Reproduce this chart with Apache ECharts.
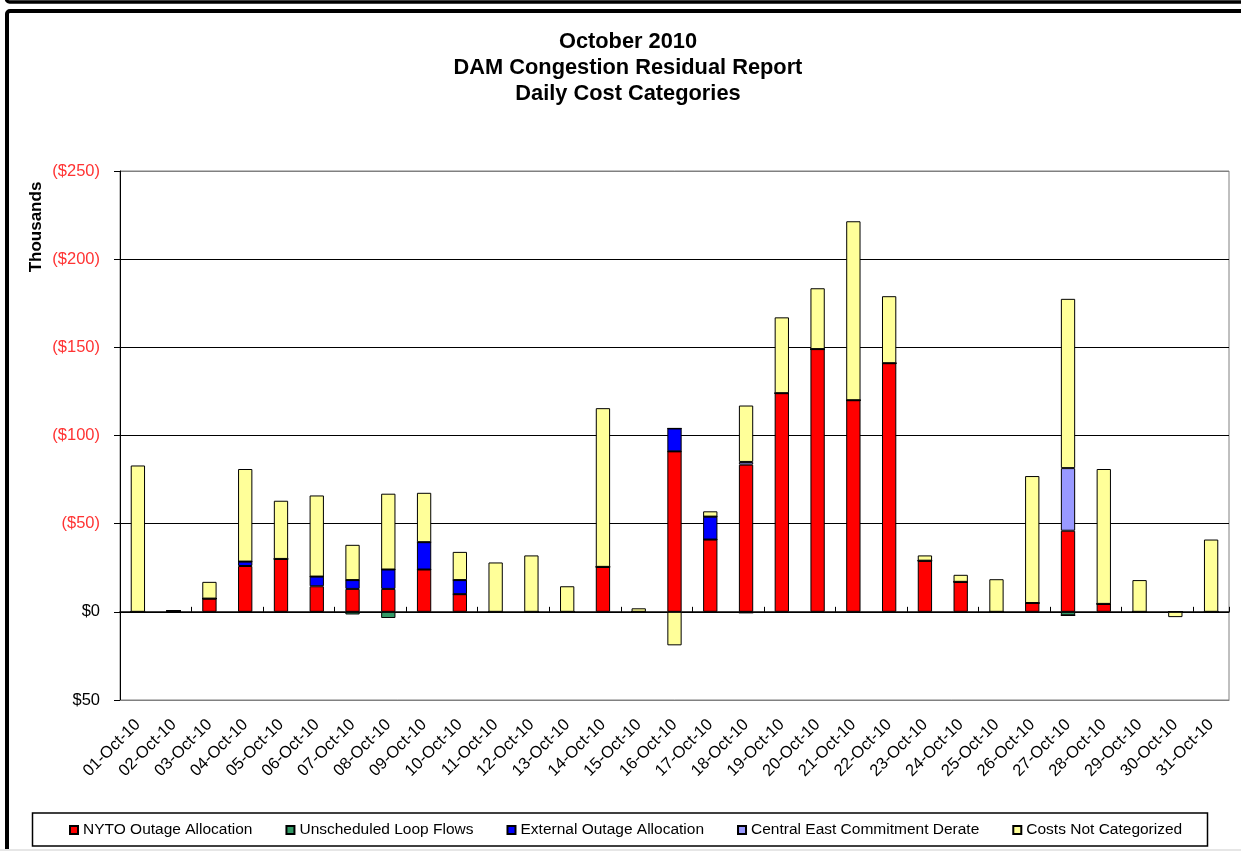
<!DOCTYPE html>
<html>
<head>
<meta charset="utf-8">
<title>DAM Congestion Residual Report</title>
<script src="https://cdn.jsdelivr.net/npm/echarts@6/dist/echarts.min.js"></script>
<style>
  html, body { margin: 0; padding: 0; background: #fff; }
  #chart { width: 1241px; height: 851px; }
</style>
</head>
<body>
<div id="chart"></div>
<script>
// days of October 2010
const days = [
  '01-Oct-10', '02-Oct-10', '03-Oct-10', '04-Oct-10', '05-Oct-10', '06-Oct-10', '07-Oct-10',
  '08-Oct-10', '09-Oct-10', '10-Oct-10', '11-Oct-10', '12-Oct-10', '13-Oct-10', '14-Oct-10',
  '15-Oct-10', '16-Oct-10', '17-Oct-10', '18-Oct-10', '19-Oct-10', '20-Oct-10', '21-Oct-10',
  '22-Oct-10', '23-Oct-10', '24-Oct-10', '25-Oct-10', '26-Oct-10', '27-Oct-10', '28-Oct-10',
  '29-Oct-10', '30-Oct-10', '31-Oct-10'
];

// thousands of $ (positive = cost)
const nytoOutage = [0, 0.5, 7.5, 26, 30, 14.5, 13, 13, 24, 10, 0, 0, 0, 25.5, 0, 91, 41, 83.5, 124, 149, 120, 141, 29, 17, 0, 5, 46, 4.5, 0, 0, 0];
const loopFlows = [0, 0, 0, -0.5, 0, -0.5, -1.5, -3.5, 0, 0, 0, 0, 0, 0, 0, 0, 0, -0.5, 0, 0, 0, 0, 0, 0, 0, 0, -2, 0, 0, 0, 0];
const externalOutage = [0, 0, 0, 2.5, 0, 5.5, 5, 11, 15.5, 8, 0, 0, 0, 0, 0, 13, 13, 0, 0, 0, 0, 0, 0, 0, 0, 0, 0, 0, 0, 0, 0];
const centralEast = [0, 0, 0, 0, 0, 0, 0, 0, 0, 0, 0, 0, 0, 0, 0, 0, 0, 1.5, 0, 0, 0, 0, 0, 0, 0, 0, 35.5, 0, 0, 0, 0];
const notCategorized = [83, 0, 9.5, 52.5, 33, 46, 20, 43, 28, 16, 28, 32, 14.5, 90, 2, -19, 3, 32, 43, 34.5, 101.5, 38, 3, 4, 18.5, 72, 96, 76.5, 18, -3, 41];

const FONT = '"Liberation Sans", Arial, sans-serif';

function bar(name, data, color) {
  return {
    name: name,
    type: 'bar',
    stack: 'cost',
    data: data,
    barWidth: '40%',
    itemStyle: { color: color, borderColor: '#000', borderWidth: 1 }
  };
}

const chart = echarts.init(document.getElementById('chart'));

chart.setOption({
  backgroundColor: '#fff',
  animation: false,
  title: {
    text: 'October 2010\nDAM Congestion Residual Report\nDaily Cost Categories',
    left: 623,
    top: 24,
    textAlign: 'center',
    textStyle: { fontFamily: FONT, fontSize: 21.8, fontWeight: 'bold', color: '#000', lineHeight: 26 }
  },
  legend: {
    left: 64,
    top: 817,
    icon: 'rect',
    itemWidth: 8,
    itemHeight: 8,
    itemGap: 33,
    textStyle: { fontFamily: FONT, fontSize: 15.5, color: '#000' },
    data: ['NYTO Outage Allocation', 'Unscheduled Loop Flows', 'External Outage Allocation',
           'Central East Commitment Derate', 'Costs Not Categorized']
  },
  grid: {
    left: 120, right: 12, top: 171, bottom: 151,
    show: true, borderColor: '#808080', borderWidth: 1, backgroundColor: '#fff'
  },
  xAxis: [
    {
      type: 'category',
      data: days,
      position: 'bottom',
      axisLine: { onZero: false, lineStyle: { color: '#808080', width: 1 } },
      axisTick: { show: false },
      axisLabel: {
        interval: 0, rotate: 45, margin: 22,
        fontFamily: FONT, fontSize: 16.5, color: '#000'
      }
    },
    {
      type: 'category',
      data: days,
      position: 'bottom',
      axisLine: { onZero: true, lineStyle: { color: '#000', width: 1.5 } },
      axisTick: { show: true, inside: true, length: 5, lineStyle: { color: '#000' } },
      axisLabel: { show: false }
    }
  ],
  yAxis: {
    type: 'value',
    min: -50,
    max: 250,
    interval: 50,
    axisLine: { show: true, lineStyle: { color: '#000', width: 1 } },
    axisTick: { show: true, length: 6, lineStyle: { color: '#000' } },
    splitLine: {
      lineStyle: { color: ['#808080', '#000', '#000', '#000', '#000', '#000', '#808080'], width: 1.2 }
    },
    axisLabel: {
      margin: 20,
      fontFamily: FONT,
      fontSize: 16.5,
      formatter: function (v) {
        if (v > 0) return '{neg|($' + v + ')}';
        return '{pos|$' + Math.abs(v) + '}';
      },
      rich: {
        neg: { color: '#ff3333', fontFamily: FONT, fontSize: 16.5 },
        pos: { color: '#000', fontFamily: FONT, fontSize: 16.5 }
      }
    }
  },
  graphic: [
    // outer frames
    { type: 'rect', shape: { x: 6.5, y: -30, width: 1260, height: 32, r: 3 }, style: { fill: 'none', stroke: '#000', lineWidth: 3.5 }, silent: true },
    { type: 'rect', shape: { x: 7, y: 11, width: 1260, height: 900, r: 3 }, style: { fill: 'none', stroke: '#000', lineWidth: 4 }, silent: true },
    { type: 'rect', shape: { x: 0, y: 849, width: 1241, height: 2 }, style: { fill: '#e6e6e6' }, silent: true },
    // legend box
    { type: 'rect', shape: { x: 32.5, y: 813, width: 1175, height: 33 }, style: { fill: 'none', stroke: '#000', lineWidth: 1.5 }, silent: true },
    // y axis unit
    {
      type: 'text', x: 36, y: 227, rotation: Math.PI / 2,
      style: { text: 'Thousands', fontFamily: FONT, fontSize: 17, fontWeight: 'bold', fill: '#000', align: 'center', verticalAlign: 'middle' },
      silent: true
    }
  ],
  series: [
    bar('NYTO Outage Allocation', nytoOutage, '#ff0000'),
    bar('Unscheduled Loop Flows', loopFlows, '#339966'),
    bar('External Outage Allocation', externalOutage, '#0000ff'),
    bar('Central East Commitment Derate', centralEast, '#9999ff'),
    bar('Costs Not Categorized', notCategorized, '#ffff99')
  ]
});
</script>
</body>
</html>
